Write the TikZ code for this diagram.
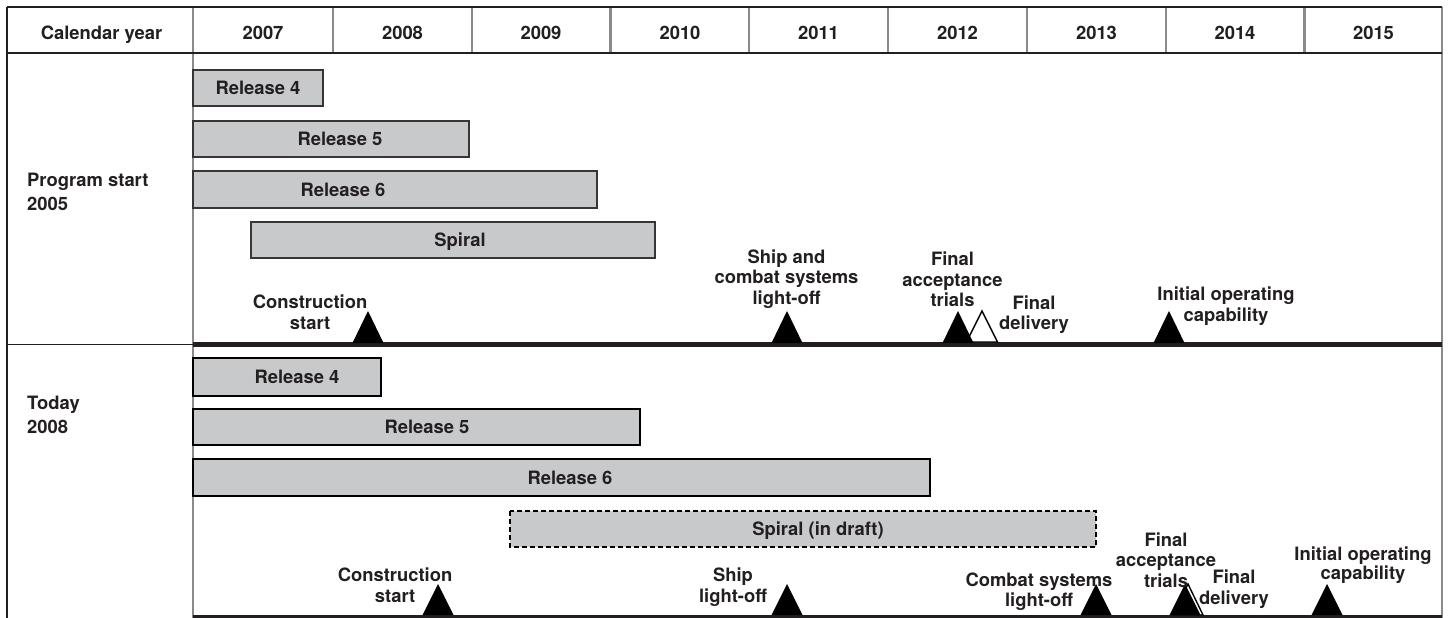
\documentclass[tikz,border=0pt]{standalone}
\usepackage{fontspec}
\setmainfont{TeX Gyre Heros}
\definecolor{barfill}{HTML}{C8C9CB}
\definecolor{ink}{HTML}{231F20}
\definecolor{rulegray}{HTML}{8A8A8A}
\newcommand{\hs}{\rule{0pt}{15pt}}
\tikzset{
  x=1pt, y=-1pt,
  lbl/.style={font=\fontsize{18.4}{20.5}\selectfont\bfseries, align=center, inner sep=0pt, anchor=north, text=ink},
  rowlbl/.style={font=\fontsize{18.4}{24}\selectfont\bfseries, align=left, inner sep=0pt, anchor=north west, text=ink},
  yr/.style={font=\fontsize{18.4}{20}\selectfont\bfseries, inner sep=0pt, anchor=base, text=ink},
  bt/.style={font=\fontsize{18.4}{20}\selectfont\bfseries, inner sep=0pt, text height=13pt, text depth=0pt, text=ink},
  barA/.style={draw=ink!90, line width=1.5pt, fill=barfill},
  barB/.style={draw=black, line width=2.4pt, fill=barfill},
  barC/.style={draw=black, line width=1.2pt, fill=barfill, dash pattern=on 5pt off 3pt},
  grid/.style={draw=rulegray, line width=2.2pt},
  frame/.style={draw=ink, line width=1.3pt},
  heavy/.style={draw=ink, line width=4.5pt},
  milestone/.style={fill=black},
  openmile/.style={draw=black, fill=white, line width=1.4pt, line join=miter},
}
\begin{document}
\begin{tikzpicture}
\useasboundingbox (0,0) rectangle (1454,618);
\fill[white] (0,0) rectangle (1454,618);

% ---- grid ----
\foreach \xx in {333,472,610.5,749,888,1027,1166,1304.5}
  \draw[grid] (\xx,7) -- (\xx,53);
\draw[grid] (193,7) -- (193,618);
\draw[draw=rulegray, line width=1.6pt] (1442,7) -- (1442,618);
\draw[frame] (7,7) -- (1442,7);
\draw[frame] (7,53) -- (1442,53);
\draw[frame] (7,7) -- (7,618);
\draw[frame] (7,344.5) -- (193,344.5);
\draw[heavy] (193,344.5) -- (1442,344.5);
\draw[draw=ink, line width=4pt] (193,616.5) -- (1442,616.5);

% ---- header ----
\node[yr] (hcal) at (101.5,39.5) {Calendar year};
\node[yr] (y07) at (263,39.5) {2007};
\node[yr] (y08) at (402.5,39.5) {2008};
\node[yr] (y09) at (541,39.5) {2009};
\node[yr] (y10) at (680,39.5) {2010};
\node[yr] (y11) at (818.5,39.5) {2011};
\node[yr] (y12) at (957.5,39.5) {2012};
\node[yr] (y13) at (1096.5,39.5) {2013};
\node[yr] (y14) at (1235,39.5) {2014};
\node[yr] (y15) at (1373.5,39.5) {2015};

% ---- row labels ----
\node[rowlbl] (rowA) at (27,171.5) {\hs Program start\\2005};
\node[rowlbl] (rowB) at (27,394) {\hs Today\\2008};

% ---- section 1 bars ----
\draw[barA] (193,70) rectangle (323,106);
\node[bt] (a4) at (258,88) {Release 4};
\draw[barA] (193,121) rectangle (469,157);
\node[bt] (a5) at (340,139) {Release 5};
\draw[barA] (193,171) rectangle (597,208);
\node[bt] (a6) at (343,189.5) {Release 6};
\draw[barA] (251,222) rectangle (655,258);
\node[bt] (asp) at (460,240) {Spiral};

% ---- section 2 bars ----
\draw[barB] (193,358) rectangle (381,396);
\node[bt] (b4) at (297,377) {Release 4};
\draw[barB] (193,409) rectangle (640,445);
\node[bt] (b5) at (427,427) {Release 5};
\draw[barB] (193,459) rectangle (930,496);
\node[bt] (b6) at (570,477.5) {Release 6};
\draw[barC] (510,511) rectangle (1096,547);
\node[bt] (bsp) at (818,529) {Spiral (in draft)};

% ---- section 1 milestones ----
\fill[milestone] (352.5,343) -- (368,311) -- (383.5,343) -- cycle;
\fill[milestone] (771.5,343) -- (787,311) -- (802.5,343) -- cycle;
\draw[openmile] (966.5,342) -- (982,311) -- (997.5,342) -- cycle;
\fill[milestone] (942.5,343) -- (958,311) -- (973.5,343) -- cycle;
\fill[milestone] (1153.5,343) -- (1169,311) -- (1184.5,343) -- cycle;

\node[lbl] (mA1) at (310,293.5) {\hs Construction\\start};
\node[lbl] (mA2) at (786.5,248) {\hs Ship and\\combat systems\\light-off};
\node[lbl] (mA3) at (952.5,250.5) {\hs Final\\acceptance\\trials};
\node[lbl] (mA4) at (1034,294) {\hs Final\\delivery};
\node[lbl, font=\fontsize{18.4}{21}\selectfont\bfseries] (mA5) at (1226,285.7) {\hs Initial operating\\capability};

% ---- section 2 milestones ----
\fill[milestone] (422.5,615) -- (438,584) -- (453.5,615) -- cycle;
\fill[milestone] (771.5,615) -- (787,584) -- (802.5,615) -- cycle;
\fill[milestone] (1080.5,615) -- (1096,584) -- (1111.5,615) -- cycle;
\draw[openmile] (1173,615) -- (1188,584) -- (1203,615) -- cycle;
\fill[milestone] (1169.5,615) -- (1185,584) -- (1200.5,615) -- cycle;
\fill[milestone] (1311.5,615) -- (1327,584) -- (1342.5,615) -- cycle;

\node[lbl] (mB1) at (395,566.7) {\hs Construction\\start};
\node[lbl] (mB2) at (733,566.5) {\hs Ship\\light-off};
\node[lbl] (mB3) at (1039,571) {\hs Combat systems\\light-off};
\node[lbl] (mB4) at (1166,531) {\hs Final\\acceptance\\trials};
\node[lbl] (mB5) at (1234,568.5) {\hs Final\\delivery};
\node[lbl, font=\fontsize{18.4}{17}\selectfont\bfseries] (mB6) at (1363,545.7) {\hs Initial operating\\capability};
\end{tikzpicture}
\end{document}
